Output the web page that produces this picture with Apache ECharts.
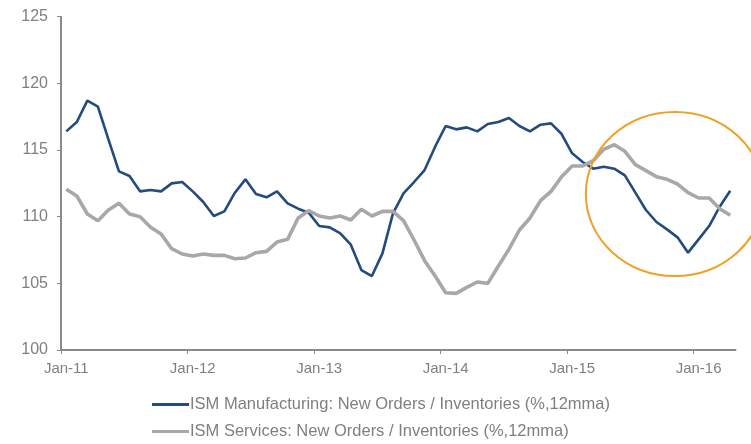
<!DOCTYPE html>
<html>
<head>
<meta charset="utf-8">
<style>
  html, body { margin: 0; padding: 0; background: #ffffff; }
  #chart { width: 751px; height: 444px; }
</style>
<script src="https://cdn.jsdelivr.net/npm/echarts@6/dist/echarts.min.js"></script>
</head>
<body>
<div id="chart"></div>
<script>
// Month labels: Jan-11 .. Apr-16
const monthNames = ['Jan','Feb','Mar','Apr','May','Jun','Jul','Aug','Sep','Oct','Nov','Dec'];
const years = ['11','12','13','14','15','16'];
const lastMonthOfFinalYear = 4; // Apr-16
const categories = [];
years.forEach(function (y, yi) {
  const n = yi === years.length - 1 ? lastMonthOfFinalYear : 12;
  for (let m = 0; m < n; m++) categories.push(monthNames[m] + '-' + y);
});
// Year boundaries (month index) that carry a tick mark
const yearTickIndices = [0, 12, 24, 36, 48, 60];

// ISM Manufacturing: New Orders / Inventories (%, 12mma)
const manufacturing = [
  116.4, 117.1, 118.7, 118.25, 115.8, 113.4, 113.05, 111.9, 112.0, 111.9, 112.5, 112.6,
  111.9, 111.1, 110.05, 110.4, 111.8, 112.8, 111.7, 111.45, 111.9, 111.0, 110.6, 110.3,
  109.3, 109.2, 108.75, 107.9, 106.0, 105.55, 107.25, 110.25, 111.75, 112.6, 113.5, 115.25,
  116.8, 116.55, 116.7, 116.4, 116.95, 117.1, 117.4, 116.8, 116.4, 116.9, 117.0, 116.2,
  114.75, 114.1, 113.6, 113.75, 113.6, 113.1, 111.8, 110.5, 109.6, 109.05, 108.45, 107.3,
  108.3, 109.3, 110.75, 111.95
];

// ISM Services: New Orders / Inventories (%, 12mma)
const services = [
  112.05, 111.55, 110.2, 109.7, 110.5, 111.0, 110.2, 110.0, 109.2, 108.7, 107.6, 107.2,
  107.05, 107.2, 107.1, 107.1, 106.85, 106.9, 107.3, 107.4, 108.1, 108.3, 109.9, 110.45,
  110.05, 109.9, 110.05, 109.75, 110.55, 110.05, 110.4, 110.4, 109.7, 108.25, 106.7, 105.55,
  104.3, 104.25, 104.7, 105.1, 105.0, 106.3, 107.55, 109.0, 109.9, 111.2, 111.9, 113.0,
  113.8, 113.8, 114.2, 115.05, 115.4, 114.9, 113.9, 113.45, 113.0, 112.8, 112.45, 111.8,
  111.4, 111.4, 110.6, 110.1
];

const seriesNames = [
  'ISM Manufacturing: New Orders / Inventories (%,12mma)',
  'ISM Services: New Orders / Inventories (%,12mma)'
];

// Highlight ellipse around the late-2015 divergence (centre in data units, radii in months / index points)
const highlight = { centerIndex: 57.75, centerValue: 111.7, radiusMonths: 8.45, radiusValue: 6.15 };

const axisGrey = '#898989';
const textGrey = '#7f7f7f';
const font = 'Liberation Sans, Arial, sans-serif';
const blue = '#234B7D';
const grey = '#A8A8A8';

// One legend per row, stacked under the plot
function legendRow(name, top) {
  return {
    orient: 'horizontal',
    left: 152, top: top,
    padding: 0,
    icon: 'rect',
    itemWidth: 37, itemHeight: 3,
    textStyle: { color: textGrey, fontSize: 16.5, fontFamily: font, padding: [0, 0, 0, -4] },
    data: [name]
  };
}

const chart = echarts.init(document.getElementById('chart'), null, { renderer: 'canvas' });

chart.setOption({
  animation: false,
  backgroundColor: '#ffffff',
  grid: { left: 61, right: 15.5, top: 16.7, bottom: 94, containLabel: false },
  xAxis: [
    {
      type: 'category',
      data: categories,
      boundaryGap: true,
      axisLine: { lineStyle: { color: axisGrey, width: 2 } },
      axisTick: { show: false },
      axisLabel: { interval: 11, color: textGrey, fontSize: 15, fontFamily: font, margin: 11 },
      splitLine: { show: false }
    },
    {
      // month-boundary scale used only for the yearly tick marks
      type: 'value',
      position: 'bottom',
      min: 0, max: categories.length, interval: 12,
      axisLine: { show: false },
      axisTick: { show: true, length: 4, customValues: yearTickIndices, lineStyle: { color: axisGrey, width: 1 } },
      axisLabel: { show: false },
      splitLine: { show: false }
    }
  ],
  yAxis: {
    type: 'value',
    min: 100, max: 125, interval: 5,
    axisLine: { show: true, lineStyle: { color: axisGrey, width: 2 } },
    axisTick: { show: true, length: 4, lineStyle: { color: axisGrey, width: 1 } },
    axisLabel: { color: textGrey, fontSize: 16, fontFamily: font, margin: 13 },
    splitLine: { show: false }
  },
  legend: [legendRow(seriesNames[0], 396), legendRow(seriesNames[1], 423)],
  series: [
    {
      name: seriesNames[0], type: 'line', data: manufacturing,
      symbol: 'none', smooth: false,
      lineStyle: { color: blue, width: 2.6 },
      itemStyle: { color: blue },
      z: 2
    },
    {
      name: seriesNames[1], type: 'line', data: services,
      symbol: 'none', smooth: false,
      lineStyle: { color: grey, width: 3.6 },
      itemStyle: { color: grey },
      z: 3
    }
  ]
});

// Place the highlight ellipse using the axes' own scales
function drawHighlight() {
  const i0 = Math.floor(highlight.centerIndex);
  const f = highlight.centerIndex - i0;
  const pA = chart.convertToPixel({ xAxisIndex: 0, yAxisIndex: 0 }, [i0, highlight.centerValue]);
  const pB = chart.convertToPixel({ xAxisIndex: 0, yAxisIndex: 0 }, [i0 + 1, highlight.centerValue]);
  const monthPx = pB[0] - pA[0];
  const cx = pA[0] + f * monthPx;
  const cy = pA[1];
  const pTop = chart.convertToPixel({ xAxisIndex: 0, yAxisIndex: 0 }, [i0, highlight.centerValue + highlight.radiusValue]);
  chart.setOption({
    graphic: [{
      type: 'ellipse',
      z: 10,
      silent: true,
      shape: { cx: cx, cy: cy, rx: highlight.radiusMonths * monthPx, ry: cy - pTop[1] },
      style: { fill: 'none', stroke: '#F0A024', lineWidth: 2 }
    }]
  });
}
drawHighlight();
</script>
</body>
</html>
